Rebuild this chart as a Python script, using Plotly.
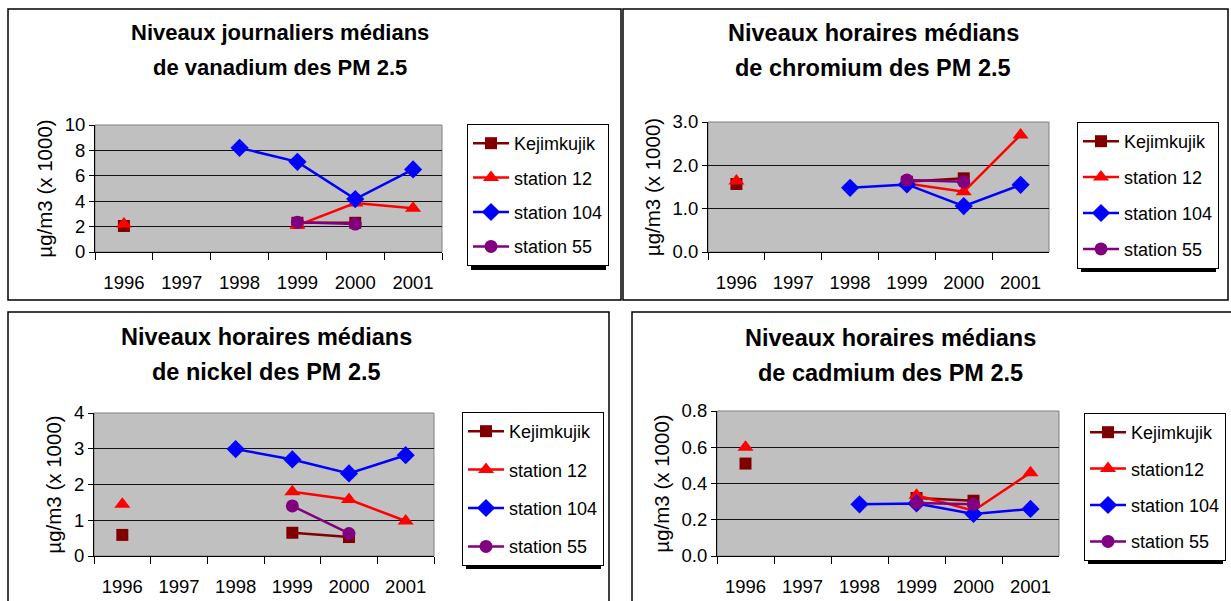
import plotly.graph_objects as go

W, H = 1231, 601

years = ["1996", "1997", "1998", "1999", "2000", "2001"]
names = ["Kejimkujik", "station 12", "station 104", "station 55"]
names_cd = ["Kejimkujik", "station12", "station 104", "station 55"]

title_lines = [
    ("Niveaux journaliers médians", "de vanadium des PM 2.5"),
    ("Niveaux horaires médians", "de chromium des PM 2.5"),
    ("Niveaux horaires médians", "de nickel des PM 2.5"),
    ("Niveaux horaires médians", "de cadmium des PM 2.5"),
]
ytitle = "µg/m3 (x 1000)"

# vanadium
v_kej = [2.05, None, None, 2.3, 2.3, None]
v_s12 = [2.2, None, None, 2.1, 3.86, 3.45]
v_s104 = [None, None, 8.2, 7.1, 4.17, 6.5]
v_s55 = [None, None, None, 2.35, 2.2, None]
# chromium
cr_kej = [1.57, None, None, 1.62, 1.7, None]
cr_s12 = [1.64, None, None, 1.58, 1.39, 2.7]
cr_s104 = [None, None, 1.48, 1.56, 1.06, 1.55]
cr_s55 = [None, None, None, 1.66, 1.62, None]
# nickel
ni_kej = [0.59, None, None, 0.65, 0.53, None]
ni_s12 = [1.45, None, None, 1.8, 1.58, 0.98]
ni_s104 = [None, None, 2.99, 2.7, 2.31, 2.82]
ni_s55 = [None, None, None, 1.4, 0.63, None]
# cadmium
cd_kej = [0.51, None, None, 0.32, 0.305, None]
cd_s12 = [0.60, None, None, 0.335, 0.25, 0.46]
cd_s104 = [None, None, 0.285, 0.29, 0.232, 0.26]
cd_s55 = [None, None, None, 0.293, 0.285, None]

panels_data = [
    [v_kej, v_s12, v_s104, v_s55],
    [cr_kej, cr_s12, cr_s104, cr_s55],
    [ni_kej, ni_s12, ni_s104, ni_s55],
    [cd_kej, cd_s12, cd_s104, cd_s55],
]
panel_names = [names, names, names, names_cd]
yranges = [[0, 10], [0, 3], [0, 4], [0, 0.8]]
ydticks = [2, 1, 1, 0.2]
yformats = ["d", ".1f", "d", ".1f"]

# layout geometry (pixels)
plot_boxes = [(95, 125, 442, 252), (708, 122, 1049, 252), (94, 413, 434, 556), (717, 411, 1059, 556)]
legend_pos = [(467, 124), (1077, 122), (462, 412), (1084, 413)]
legend_size = [(135, 142), (135, 146), (135, 153), (135, 147)]
legend_gap = [8, 9.5, 12, 10]
frames = [(8, 9, 621, 300), (623, 9, 1228, 300), (8, 312, 609, 612), (632, 312, 1240, 612)]
title_pos = [(280, 33, 67, 22), (873, 33, 68, 23.5), (266, 337, 372, 23.5), (890, 338, 373, 23.5)]

colors = ["#800000", "#FF0000", "#0000FF", "#800080"]
symbols = ["square", "triangle-up", "diamond", "circle"]
msizes = [12, 14, 14, 13]

FONT = "Liberation Sans, Arial, sans-serif"

def px(x):
    return x / W

def py(y):
    return 1 - y / H

fig = go.Figure()
shapes = []
annotations = []
layout = {}

for p in range(4):
    ax = "" if p == 0 else str(p + 1)
    leg = "legend" if p == 0 else f"legend{p + 1}"
    for s in range(4):
        fig.add_trace(go.Scatter(
            x=years, y=panels_data[p][s], name=panel_names[p][s],
            mode="lines+markers", connectgaps=False,
            line=dict(color=colors[s], width=2.5),
            marker=dict(symbol=symbols[s], size=msizes[s], color=colors[s]),
            xaxis="x" + ax, yaxis="y" + ax, legend=leg,
            legendgroup=f"g{p}{s}", hoverinfo="x+y+name",
        ))
    x0, y0, x1, y1 = plot_boxes[p]
    layout["xaxis" + ax] = dict(
        domain=[px(x0), px(x1)], anchor="y" + ax, type="category",
        categoryorder="array", categoryarray=years, range=[-0.5, 5.5],
        tickson="boundaries", ticks="outside", ticklen=7, tickcolor="black",
        showline=True, linecolor="black", linewidth=1, showgrid=False,
        tickfont=dict(family=FONT, size=18.5, color="black"), ticklabelstandoff=14,
        fixedrange=True, automargin=False,
    )
    layout["yaxis" + ax] = dict(
        domain=[py(y1), py(y0)], anchor="x" + ax, range=yranges[p],
        dtick=ydticks[p], tick0=0, tickformat=yformats[p],
        ticks="outside", ticklen=5, tickcolor="black",
        showline=True, linecolor="black", linewidth=1,
        showgrid=True, gridcolor="#111111", gridwidth=1, zeroline=False,
        tickfont=dict(family=FONT, size=18.5, color="black"),
        title=dict(text=ytitle, font=dict(family=FONT, size=20.5, color="black"), standoff=6),
        fixedrange=True, automargin=False,
    )
    lx, ly = legend_pos[p]
    layout[leg] = dict(
        x=px(lx), y=py(ly), xanchor="left", yanchor="top",
        bgcolor="white", bordercolor="black", borderwidth=1,
        font=dict(family=FONT, size=18, color="black"),
        tracegroupgap=legend_gap[p], itemwidth=36,
    )
    # legend drop shadow
    lw, lh = legend_size[p]
    shapes.append(dict(type="rect", xref="paper", yref="paper",
                       x0=px(lx + 4), x1=px(lx + lw + 4), y0=py(ly + lh + 4), y1=py(ly + 4),
                       line=dict(width=0), fillcolor="black", layer="above"))
    # plot area fill + gray border
    shapes.append(dict(type="rect", xref="paper", yref="paper",
                       x0=px(x0), x1=px(x1), y0=py(y1), y1=py(y0),
                       line=dict(color="#808080", width=1), layer="below",
                       fillcolor="#C0C0C0"))
    # frame
    fx0, fy0, fx1, fy1 = frames[p]
    shapes.append(dict(type="rect", xref="paper", yref="paper",
                       x0=px(fx0), x1=px(fx1), y0=py(fy1), y1=py(fy0),
                       line=dict(color="black", width=1.5), layer="below",
                       fillcolor="rgba(0,0,0,0)"))
    tx, ty1, ty2, tsize = title_pos[p]
    for line_text, ty in zip(title_lines[p], (ty1, ty2)):
        annotations.append(dict(text="<b>" + line_text + "</b>",
                                x=px(tx), y=py(ty), xref="paper", yref="paper",
                                xanchor="center", yanchor="middle", showarrow=False,
                                font=dict(family=FONT, size=tsize, color="black")))

fig.update_layout(**layout)
fig.update_layout(
    width=W, height=H, margin=dict(l=0, r=0, t=0, b=0, autoexpand=False),
    paper_bgcolor="white", plot_bgcolor="rgba(0,0,0,0)",
    shapes=shapes, annotations=annotations, showlegend=True,
)

fig.write_html("out.html")
